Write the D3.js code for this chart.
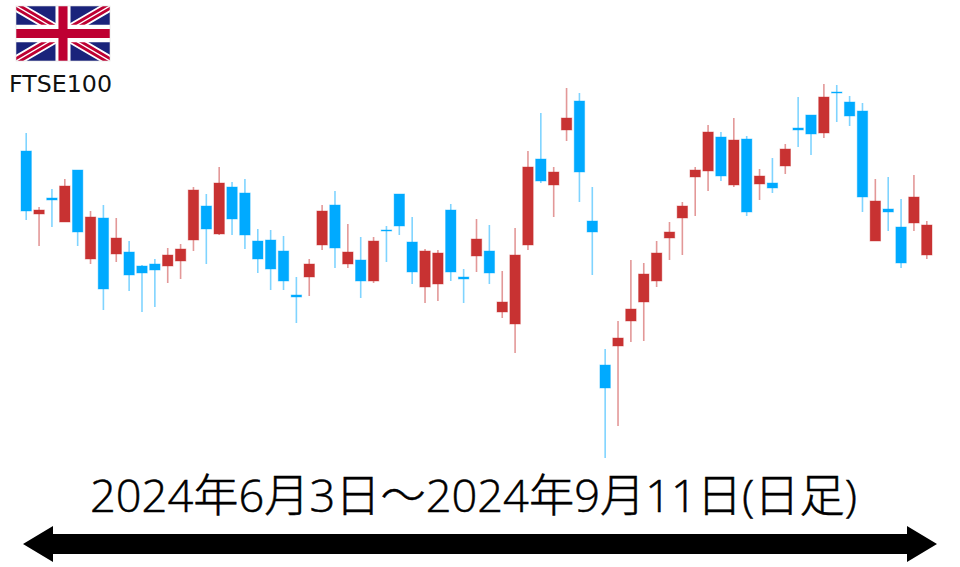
<!DOCTYPE html>
<html>
<head>
<meta charset="utf-8">
<script src="https://cdn.jsdelivr.net/npm/d3@7"></script>
<style>
body { margin: 0; background: #fff; overflow: hidden; }
</style>
</head>
<body>
<script>
// daily FTSE100 candles (no axis in the original, so levels are approximate)
const opens = [8309,8246,8262,8238,8290,8201,8242,8206,8208,8194,8196,8194,8199,8220,8254,8226,8273,8267,8219,8220,8209,8165,8183,8215,8255,8196,8200,8179,8230,8266,8218,8173,8176,8250,8183,8204,8209,8148,8136,8215,8301,8275,8330,8359,8239,8095,8114,8139,8158,8179,8222,8242,8283,8289,8323,8275,8321,8276,8277,8294,8332,8345,8327,8368,8358,8349,8219,8251,8233,8237,8205];
const closes = [8249,8250,8260,8274,8228,8243,8171,8222,8185,8187,8190,8205,8211,8270,8231,8277,8241,8225,8201,8191,8179,8163,8196,8249,8212,8208,8179,8219,8229,8234,8188,8209,8207,8188,8181,8221,8187,8158,8205,8293,8279,8288,8342,8288,8228,8072,8122,8151,8186,8207,8228,8254,8290,8328,8284,8320,8248,8284,8272,8311,8330,8326,8363,8367,8344,8263,8259,8248,8197,8263,8235];
const highs = [8327,8253,8271,8281,8290,8249,8255,8242,8219,8195,8201,8212,8216,8273,8266,8293,8278,8281,8231,8230,8224,8183,8201,8255,8269,8236,8223,8223,8234,8266,8243,8211,8210,8256,8191,8241,8235,8189,8232,8309,8347,8293,8372,8367,8273,8111,8139,8200,8197,8219,8238,8258,8293,8335,8328,8342,8324,8291,8302,8316,8363,8345,8376,8375,8364,8357,8281,8283,8261,8285,8239];
const lows = [8240,8214,8233,8238,8214,8196,8150,8198,8169,8148,8153,8177,8181,8209,8196,8225,8225,8211,8187,8170,8170,8137,8164,8210,8192,8192,8162,8177,8198,8225,8176,8157,8159,8179,8157,8188,8176,8142,8107,8210,8277,8243,8319,8258,8185,8002,8034,8118,8119,8173,8200,8205,8244,8269,8279,8273,8244,8260,8267,8286,8313,8305,8322,8338,8334,8248,8219,8229,8192,8229,8201];

const indexName = "FTSE100";
const periodLabel = "2024年6月3日～2024年9月11日(日足)";

const upColor = "#c83232";
const downColor = "#00aaff";

const width = 960, height = 567;

const svg = d3.select("body").append("svg")
    .attr("width", width)
    .attr("height", height)
    .style("display", "block");

const x = d3.scalePoint()
    .domain(d3.range(opens.length))
    .range([26.2, 926.8]);

const y = d3.scaleLinear()
    .domain([8000, 8380])
    .range([460, 80]);

const candles = svg.selectAll("g.candle")
    .data(opens.map((o, i) => ({ o, c: closes[i], h: highs[i], l: lows[i], i })))
    .enter().append("g")
    .attr("class", "candle");

candles.append("line")
    .attr("x1", d => x(d.i))
    .attr("x2", d => x(d.i))
    .attr("y1", d => y(d.h))
    .attr("y2", d => y(d.l))
    .attr("stroke", d => d.c > d.o ? upColor : downColor)
    .attr("stroke-opacity", 0.5)
    .attr("stroke-width", 1.6);

candles.append("rect")
    .attr("x", d => x(d.i) - 5.2)
    .attr("width", 10.4)
    .attr("y", d => y(Math.max(d.o, d.c)))
    .attr("height", d => Math.abs(y(d.o) - y(d.c)))
    .attr("fill", d => d.c > d.o ? upColor : downColor)
    .attr("stroke", d => d.c > d.o ? upColor : downColor)
    .attr("stroke-opacity", 0.4)
    .attr("stroke-width", 1);

// union jack
const flag = svg.append("svg")
    .attr("x", 16).attr("y", 6)
    .attr("width", 94).attr("height", 55)
    .attr("viewBox", "0 0 60 30")
    .attr("preserveAspectRatio", "none");

flag.append("rect").attr("width", 60).attr("height", 30).attr("fill", "#1a237b");
flag.append("path").attr("d", "M0,0L60,30M60,0L0,30").attr("stroke", "#fff").attr("stroke-width", 6);
flag.append("path").attr("d", "M0,0L30,15M60,30L30,15").attr("stroke", "#be0032").attr("stroke-width", 1.6)
    .attr("transform", "translate(0.9,-0.9)");
flag.append("path").attr("d", "M0,0L30,15M60,30L30,15").attr("stroke", "#be0032").attr("stroke-width", 1.6)
    .attr("transform", "translate(-0.9,0.9)");
flag.append("path").attr("d", "M60,0L30,15M0,30L30,15").attr("stroke", "#be0032").attr("stroke-width", 1.6)
    .attr("transform", "translate(0.9,0.9)");
flag.append("path").attr("d", "M60,0L30,15M0,30L30,15").attr("stroke", "#be0032").attr("stroke-width", 1.6)
    .attr("transform", "translate(-0.9,-0.9)");
flag.append("path").attr("d", "M30,0V30M0,15H60").attr("stroke", "#fff").attr("stroke-width", 9.6);
flag.append("path").attr("d", "M30,0V30").attr("stroke", "#be0032").attr("stroke-width", 5.8);
flag.append("path").attr("d", "M0,15H60").attr("stroke", "#be0032").attr("stroke-width", 5);
svg.append("rect")
    .attr("x", 16).attr("y", 6).attr("width", 94).attr("height", 55)
    .attr("fill", "none").attr("stroke", "#ddd").attr("stroke-width", 0.6);

svg.append("text")
    .attr("x", 9)
    .attr("y", 92)
    .attr("textLength", 103)
    .attr("lengthAdjust", "spacingAndGlyphs")
    .style("font-family", "'DejaVu Sans'")
    .style("font-size", "23px")
    .style("fill", "#111")
    .text(indexName);

svg.append("text")
    .attr("x", 90)
    .attr("y", 512)
    .attr("textLength", 767)
    .attr("lengthAdjust", "spacingAndGlyphs")
    .style("font-family", "'Open Sans','Noto Sans CJK JP'")
    .style("font-weight", "300")
    .style("font-size", "45px")
    .style("fill", "#000")
    .style("stroke", "#000")
    .style("stroke-width", "0.5px")
    .text(periodLabel);

// period arrow
svg.append("path")
    .attr("d", "M23,544L53,526V534H907V526L937,544L907,562V554H53V562Z")
    .attr("fill", "#000");
</script>
</body>
</html>
